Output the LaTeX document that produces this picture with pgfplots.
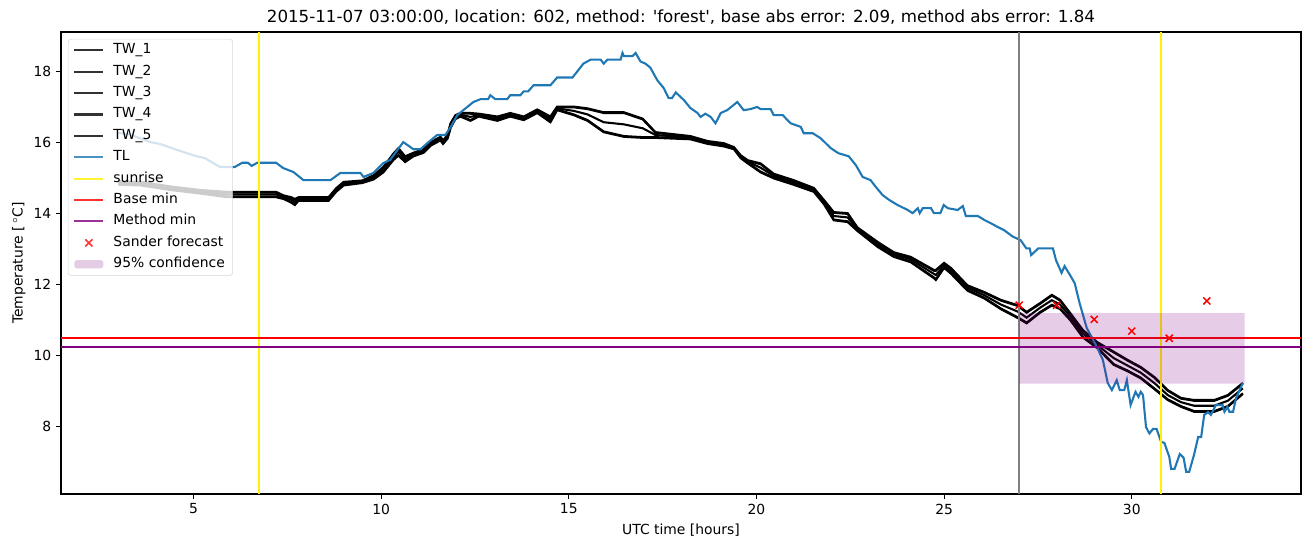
\documentclass[border=0pt]{standalone}
\usepackage{fontspec}
\setmainfont{DejaVu Sans}
\usepackage{pgfplots}
\pgfplotsset{compat=1.18}
\usepackage{pgfplotstable}

\definecolor{tlblue}{HTML}{1F77B4}
\definecolor{mplpurple}{RGB}{128,0,128}
\definecolor{mplgray}{RGB}{128,128,128}
\definecolor{legframe}{RGB}{204,204,204}

\pgfplotsset{
  mylinelegend/.style={legend image code/.code={\draw[mark repeat=2,mark phase=2,##1] plot coordinates {(0pt,0pt)(10.5pt,0pt)(21pt,0pt)};}},
  bandlegend/.style={legend image code/.code={\fill[##1] (0pt,-3pt) rectangle (21pt,3pt);}},
}

\pgfplotstableread{
x tw1 tw2 tw3 tw4 tw5
3.0 14.90 14.88 14.85 14.82 14.80
3.6 14.88 14.86 14.83 14.80 14.78
4.4 14.75 14.73 14.70 14.67 14.65
5.2 14.65 14.63 14.60 14.57 14.55
5.9 14.60 14.58 14.53 14.47 14.45
7.2 14.60 14.58 14.53 14.47 14.45
7.4 14.50 14.48 14.45 14.42 14.40
7.6 14.45 14.43 14.38 14.32 14.30
7.7 14.40 14.38 14.32 14.25 14.23
7.8 14.45 14.43 14.40 14.37 14.35
8.6 14.45 14.43 14.40 14.37 14.35
8.8 14.70 14.68 14.65 14.62 14.60
9.0 14.88 14.86 14.83 14.80 14.78
9.5 14.92 14.90 14.89 14.87 14.85
9.8 15.07 15.05 15.01 14.97 14.95
10.06 15.30 15.28 15.23 15.17 15.15
10.33 15.68 15.66 15.59 15.52 15.50
10.46 15.83 15.81 15.73 15.64 15.62
10.64 15.60 15.58 15.52 15.46 15.44
10.86 15.70 15.68 15.65 15.62 15.60
11.13 15.80 15.78 15.75 15.72 15.70
11.32 16.00 15.98 15.95 15.92 15.90
11.58 16.15 16.13 16.10 16.07 16.05
11.65 16.05 16.03 16.00 15.97 15.95
11.77 16.20 16.18 16.15 16.12 16.10
11.85 16.53 16.51 16.47 16.42 16.40
11.98 16.76 16.74 16.71 16.67 16.65
12.11 16.82 16.80 16.77 16.74 16.72
12.38 16.82 16.80 16.71 16.62 16.60
12.6 16.80 16.78 16.76 16.74 16.72
13.1 16.72 16.70 16.66 16.62 16.60
13.44 16.82 16.80 16.77 16.74 16.72
13.8 16.72 16.70 16.67 16.64 16.62
14.16 16.92 16.90 16.87 16.84 16.82
14.51 16.72 16.70 16.64 16.58 16.56
14.69 17.00 16.98 16.95 16.92 16.90
15.13 17.00 16.98 16.88 16.78 16.76
15.5 16.95 16.93 16.78 16.62 16.60
15.93 16.84 16.82 16.56 16.30 16.28
16.47 16.84 16.82 16.50 16.17 16.15
16.97 16.66 16.64 16.39 16.14 16.12
17.31 16.28 16.26 16.20 16.14 16.12
18.24 16.17 16.15 16.13 16.10 16.08
18.7 16.03 16.01 15.99 15.97 15.95
19.13 15.97 15.95 15.93 15.90 15.88
19.4 15.86 15.84 15.83 15.82 15.80
19.58 15.63 15.61 15.59 15.57 15.55
19.77 15.49 15.47 15.45 15.42 15.40
20.11 15.40 15.38 15.28 15.17 15.15
20.46 15.11 15.09 15.05 15.00 14.98
20.99 14.93 14.91 14.87 14.82 14.80
21.53 14.71 14.69 14.66 14.62 14.60
21.8 14.37 14.35 14.31 14.27 14.25
22.06 14.03 14.01 13.92 13.82 13.80
22.43 14.00 13.98 13.88 13.77 13.75
22.69 13.60 13.58 13.55 13.52 13.50
23.23 13.19 13.17 13.12 13.07 13.05
23.66 12.90 12.88 12.84 12.79 12.77
24.11 12.77 12.75 12.70 12.64 12.62
24.73 12.40 12.38 12.29 12.19 12.17
24.78 12.40 12.38 12.26 12.14 12.12
25.0 12.60 12.58 12.53 12.48 12.46
25.18 12.46 12.44 12.38 12.32 12.30
25.62 11.97 11.95 11.90 11.84 11.82
26.07 11.78 11.76 11.69 11.62 11.60
26.51 11.56 11.54 11.43 11.32 11.30
26.96 11.41 11.39 11.23 11.07 11.05
27.2 11.22 11.20 11.06 10.92 10.90
27.56 11.47 11.45 11.34 11.22 11.20
27.87 11.70 11.68 11.55 11.42 11.40
28.09 11.56 11.54 11.43 11.32 11.30
28.36 11.19 11.17 11.09 11.01 10.99
28.7 10.71 10.69 10.61 10.52 10.50
29.08 10.37 10.35 10.29 10.22 10.20
29.52 10.10 10.08 9.92 9.75 9.73
29.89 9.87 9.85 9.71 9.57 9.55
30.24 9.67 9.65 9.51 9.37 9.35
30.6 9.39 9.37 9.22 9.07 9.05
30.96 9.02 9.00 8.88 8.76 8.74
31.31 8.80 8.78 8.68 8.57 8.55
31.66 8.74 8.72 8.58 8.43 8.41
32.2 8.74 8.72 8.58 8.43 8.41
32.56 8.88 8.86 8.72 8.57 8.55
32.96 9.22 9.20 9.07 8.93 8.91
}\twtable

\pgfplotstableread{
x y
3.0 16.26
3.3 16.22
3.85 16.0
4.1 15.95
4.57 15.78
4.99 15.63
5.3 15.55
5.71 15.30
6.1 15.30
6.3 15.42
6.45 15.42
6.55 15.33
6.7 15.42
7.2 15.42
7.39 15.27
7.66 15.16
7.93 14.93
8.65 14.93
8.91 15.13
9.45 15.13
9.53 15.02
9.79 15.13
10.06 15.41
10.24 15.5
10.59 16.0
10.78 15.86
10.86 15.8
11.05 15.8
11.23 15.97
11.49 16.2
11.71 16.2
11.85 16.42
12.03 16.76
12.19 16.9
12.46 17.13
12.65 17.21
12.85 17.21
12.91 17.32
13.04 17.21
13.36 17.21
13.44 17.32
13.71 17.32
13.8 17.43
13.92 17.43
14.06 17.6
14.51 17.6
14.69 17.82
15.1 17.82
15.39 18.21
15.58 18.32
15.85 18.32
15.93 18.21
16.03 18.32
16.38 18.32
16.43 18.51
16.47 18.42
16.7 18.42
16.78 18.51
16.91 18.27
17.04 18.21
17.17 18.1
17.36 17.74
17.53 17.52
17.66 17.24
17.75 17.24
17.85 17.4
18.07 17.18
18.24 16.96
18.43 16.82
18.51 16.71
18.64 16.8
18.78 16.71
18.91 16.53
19.05 16.82
19.22 16.9
19.49 17.13
19.66 16.9
19.84 16.93
20.02 16.99
20.11 16.93
20.38 16.93
20.46 16.76
20.7 16.76
20.91 16.53
21.18 16.43
21.26 16.25
21.5 16.25
21.71 16.11
21.98 15.83
22.18 15.69
22.46 15.6
22.65 15.35
22.83 15.02
23.04 14.93
23.18 14.74
23.36 14.51
23.54 14.37
23.76 14.23
24.03 14.09
24.16 14.0
24.3 14.14
24.35 14.0
24.43 14.14
24.65 14.14
24.73 14.0
24.9 14.0
24.99 14.23
25.1 14.14
25.36 14.09
25.5 14.2
25.58 13.92
25.9 13.92
26.07 13.81
26.24 13.72
26.43 13.61
26.6 13.52
26.83 13.34
27.04 13.24
27.19 13.01
27.28 13.01
27.32 12.82
27.51 13.01
27.9 13.01
27.98 12.68
28.13 12.32
28.21 12.51
28.37 12.23
28.48 12.03
28.61 11.47
28.8 10.77
29.07 10.24
29.23 9.87
29.36 9.22
29.47 9.02
29.6 9.3
29.68 9.02
29.8 9.02
29.87 9.3
29.97 8.6
30.1 8.97
30.18 8.83
30.24 8.97
30.3 8.88
30.38 7.98
30.47 7.8
30.57 7.93
30.66 7.93
30.78 7.57
30.87 7.53
31.0 7.14
31.05 6.8
31.14 6.8
31.28 7.22
31.38 7.12
31.45 6.72
31.53 6.72
31.66 7.2
31.77 7.7
31.85 7.7
31.93 8.32
32.03 8.4
32.11 8.32
32.24 8.6
32.42 8.6
32.47 8.41
32.55 8.55
32.6 8.41
32.7 8.41
32.78 8.8
32.96 9.22
}\tltable

\begin{document}
\begin{tikzpicture}
\begin{axis}[
  scale only axis,
  width=892.8pt, height=332.64pt,
  xmin=1.47, xmax=34.51, ymin=6.095, ymax=19.10,
  xtick={5,10,15,20,25,30},
  ytick={8,10,12,14,16,18},
  tick align=outside, tick pos=left,
  major tick length=3.5pt,
  every tick/.style={black, line width=0.8pt},
  axis line style={line width=0.8pt},
  /pgf/number format/assume math mode=true,
  tick label style={font=\fontsize{10}{12}\selectfont},
  title={2015-11-07 03:00:00, location: 602, method: \textquotesingle forest\textquotesingle, base abs error: 2.09, method abs error: 1.84},
  title style={font=\fontsize{12}{14.4}\selectfont, at={(axis description cs:0.5,1)}, anchor=base, yshift=1pt},
  xlabel={UTC time [hours]},
  xlabel style={font=\fontsize{10}{12}\selectfont, at={(axis description cs:0.5,0)}, anchor=base, yshift=-29.5pt},
  ylabel={Temperature [\,$^{\circ}$C]},
  ylabel style={font=\fontsize{10}{12}\selectfont, at={(axis description cs:-0.034,0.5)}, anchor=center},
  mylinelegend,
  legend cell align=left,
  legend style={at={(axis description cs:0,1)}, anchor=north west, xshift=5pt, yshift=-5pt,
    draw=legframe, rounded corners=2pt, fill=white, fill opacity=0.8, text opacity=1, draw opacity=0.8,
    font=\fontsize{10}{12}\selectfont, inner xsep=3.6pt, inner ysep=0.3pt, row sep=0pt, column sep=4.5pt,
    nodes={text height=7.5pt, text depth=2.5pt, inner ysep=2.7pt}},
]
\addplot[black, line width=1.5pt] table[x=x, y=tw1] {\twtable};
\addlegendentry{TW\_1}
\addplot[black, line width=1.5pt] table[x=x, y=tw2] {\twtable};
\addlegendentry{TW\_2}
\addplot[black, line width=1.5pt] table[x=x, y=tw3] {\twtable};
\addlegendentry{TW\_3}
\addplot[black, line width=1.5pt] table[x=x, y=tw4] {\twtable};
\addlegendentry{TW\_4}
\addplot[black, line width=1.5pt] table[x=x, y=tw5] {\twtable};
\addlegendentry{TW\_5}
\addplot[tlblue, line width=1.5pt] table[x=x, y=y] {\tltable};
\addlegendentry{TL}
\addplot[mplgray, line width=1.5pt, forget plot] coordinates {(27,6.095) (27,19.10)};
\addplot[yellow, line width=1.5pt] coordinates {(6.74,6.095) (6.74,19.10)};
\addlegendentry{sunrise}
\addplot[yellow, line width=1.5pt, forget plot] coordinates {(30.77,6.095) (30.77,19.10)};
\addplot[red, line width=1.5pt] coordinates {(1.47,10.49) (34.51,10.49)};
\addlegendentry{Base min}
\addplot[mplpurple, line width=1.5pt] coordinates {(1.47,10.23) (34.51,10.23)};
\addlegendentry{Method min}
\addplot[only marks, red, mark=x, mark size=3.6pt, line width=1.1pt] coordinates {
  (27,11.41) (28,11.41) (29,11.01) (30,10.68) (31,10.48) (32,11.53)};
\addlegendentry{Sander forecast}
\addplot[draw=none, fill=mplpurple, fill opacity=0.2, bandlegend]
  coordinates {(27,9.20) (33.01,9.20) (33.01,11.19) (27,11.19) (27,9.20)};
\addlegendentry{95\% confidence}
\end{axis}
\pgfresetboundingbox
\path[use as bounding box] ([shift={(-43.92pt,-38.16pt)}]current axis.south west) rectangle ([shift={(7.2pt,23.04pt)}]current axis.north east);
\end{tikzpicture}
\end{document}
